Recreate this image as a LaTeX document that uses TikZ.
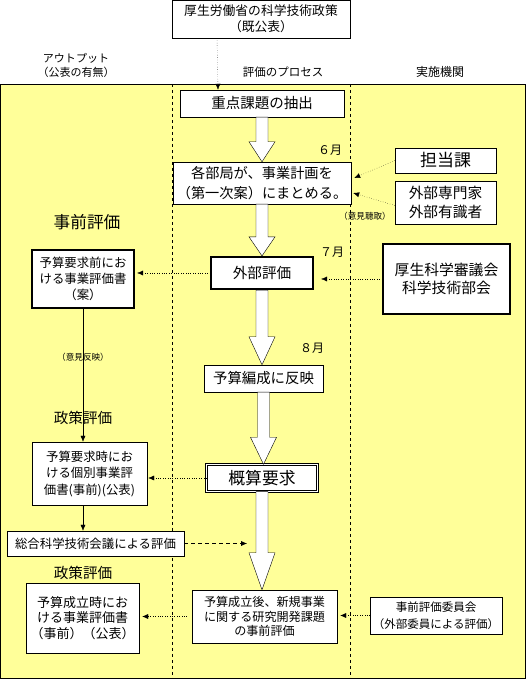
\documentclass[tikz,border=0pt]{standalone}
\usepackage{fontspec}
\setmainfont{Noto Sans CJK JP}
\usepackage{tikz}
\usetikzlibrary{arrows.meta}
\definecolor{paleyellow}{HTML}{FFFF99}

\newcommand{\fs}[2]{\fontsize{#1}{#2}\selectfont}
\newcommand{\hollowarrow}[3]{%
  \coordinate (tip) at (#1.south |- #2.north);
  \draw[bigarrow] ([xshift=-6pt]#1.south) -- ([xshift=6pt]#1.south)
    -- ([shift={(6pt,#3)}]tip) -- ([shift={(13pt,#3)}]tip) -- (tip)
    -- ([shift={(-13pt,#3)}]tip) -- ([shift={(-6pt,#3)}]tip) -- cycle;}

\tikzset{
  box/.style={draw, fill=white, align=center, inner sep=0pt},
  thickbox/.style={box, line width=2.2pt},
  dotarrow/.style={dotted, -{Latex[length=6pt,width=5pt]}},
  linearrow/.style={-{Latex[length=6pt,width=5pt]}},
  dasharrow/.style={dash pattern=on 4pt off 3pt, -{Latex[length=6pt,width=5pt]}},
  bigarrow/.style={draw, fill=white, line join=miter},
}

\begin{document}
\begin{tikzpicture}[x=1pt,y=1pt]
\useasboundingbox (0,0) rectangle (526,679);
\draw[fill=paleyellow] (0.5,0.5) rectangle (525.5,595);
\draw[dashed] (172,595) -- (172,0.5);
\draw[dashed] (350,595) -- (350,0.5);

% headers
\node[box, minimum width=178, minimum height=38, font=\fs{12.8}{16}] (top) at (261,660) {厚生労働省の科学技術政策\\（既公表）};
\node[align=center, font=\fs{11}{14}] (hdrout) at (76,614) {アウトプット\\（公表の有無）};
\node[font=\fs{11.5}{14}] (hdrproc) at (283,607) {評価のプロセス};
\node[font=\fs{12}{14}] (hdrorg) at (440,607) {実施機関};

% process column
\node[box, minimum width=164, minimum height=27, font=\fs{14.5}{18}] (extract) at (262,575.5) {重点課題の抽出};
\node[box, minimum width=178, minimum height=42, font=\fs{14.2}{20}] (plan) at (262,496) {各部局が、事業計画を\\（第一次案）にまとめる。};
\node[thickbox, minimum width=102, minimum height=32, font=\fs{14.6}{18}] (gaibu) at (262,406) {外部評価};
\node[box, minimum width=119, minimum height=27, font=\fs{14.4}{18}] (hensei) at (263.5,300.5) {予算編成に反映};
\node[box, double, double distance=1.6pt, minimum width=111, minimum height=27, font=\fs{16.8}{20}] (gaisan) at (262,201) {概算要求};
\node[box, minimum width=145, minimum height=53, font=\fs{12.1}{14.5}] (seiritsugo) at (264.5,62.5) {予算成立後、新規事業\\に関する研究開発課題\\の事前評価};

\node[font=\fs{12}{14}] (june) at (330,529) {６月};
\node[font=\fs{12}{14}] (july) at (332,427) {７月};
\node[font=\fs{12}{14}] (august) at (312,331) {８月};

% organisations
\node[box, minimum width=101, minimum height=25, font=\fs{17}{20}] (tanto) at (445.5,518.5) {担当課};
\node[box, minimum width=101, minimum height=43, font=\fs{14.7}{19}] (senmon) at (445.5,476.5) {外部専門家\\外部有識者};
\node[font=\fs{8.6}{10}] (iken) at (365,463) {（意見聴取）};
\node[thickbox, minimum width=127, minimum height=70, font=\fs{14.8}{18}] (shingikai) at (446.5,400) {厚生科学審議会\\科学技術部会};
\node[box, minimum width=132, minimum height=37, font=\fs{11.5}{17}] (iinkai) at (436,63.5) {事前評価委員会\\（外部委員による評価）};

% output column
\node[font=\fs{16.7}{20}] (jizen) at (87,457) {事前評価};
\node[thickbox, minimum width=102, minimum height=58, font=\fs{12.4}{16}] (mae) at (83,400) {予算要求前にお\\ける事業評価書\\（案）};
\node[font=\fs{8.6}{10}] (hanei) at (83,322) {（意見反映）};
\node[font=\fs{14.6}{18}] (seisakuA) at (83,261) {政策評価};
\node[box, minimum width=115, minimum height=63, font=\fs{12.4}{16.5}] (yokyu) at (89.5,205.5) {予算要求時にお\\ける個別事業評\\価書(事前)(公表)};
\node[box, minimum width=177, minimum height=25, font=\fs{12.4}{15}] (sogo) at (95.5,135.5) {総合科学技術会議による評価};
\node[font=\fs{14.6}{18}] (seisakuB) at (83,106) {政策評価};
\node[box, minimum width=113, minimum height=70, font=\fs{13}{15.5}] (seiritsuji) at (82.5,61) {予算成立時にお\\ける事業評価書\\（事前）（公表）};
\coordinate (sogoend) at (247,135.5);

% flow arrows
\hollowarrow{extract}{plan}{20pt}
\hollowarrow{plan}{gaibu}{19pt}
\hollowarrow{gaibu}{hensei}{28pt}
\hollowarrow{hensei}{gaisan}{27pt}
\hollowarrow{gaisan}{seiritsugo}{37pt}

\draw[dotarrow] ([xshift=-44pt]top.south) -- ([xshift=-44pt]extract.north);
\draw[dotarrow] (tanto.west) -- ([shift={(3pt,5pt)}]plan.east);
\draw[dotarrow] ([yshift=-3pt]senmon.west) -- ([shift={(2pt,-10pt)}]plan.east);
\draw[dotarrow] (gaibu.west) -- ([xshift=2pt]gaibu.west -| mae.east);
\draw[dotarrow] (shingikai.west) -- ([xshift=7pt]shingikai.west -| gaibu.east);
\draw[linearrow] (mae.south) -- (mae.south |- yokyu.north);
\draw[dotarrow] (gaisan.west) -- ([xshift=1pt]gaisan.west -| yokyu.east);
\draw[linearrow] (mae.south |- yokyu.south) -- (mae.south |- sogo.north);
\draw[dasharrow] (sogo.east) -- (sogoend);
\draw[dotarrow] ([xshift=-5pt]seiritsugo.west) -- ([xshift=3pt]seiritsugo.west -| seiritsuji.east);
\draw[dotarrow] (iinkai.west) -- ([xshift=3pt]iinkai.west -| seiritsugo.east);
\end{tikzpicture}
\end{document}
